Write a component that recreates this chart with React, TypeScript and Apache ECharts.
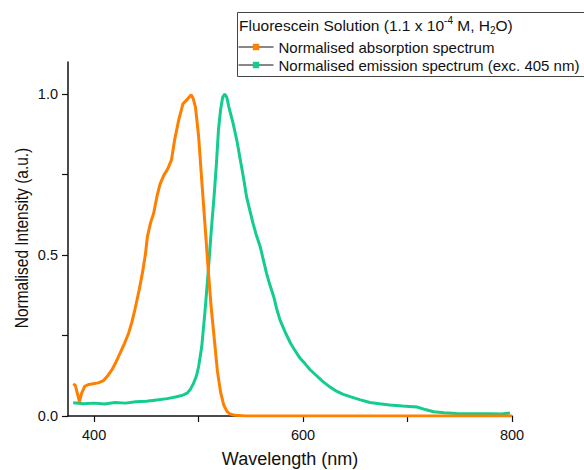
import React, { useEffect, useRef } from "react";
import * as echarts from "echarts";

const absorption: [number, number][] = [
  [380, 0.1], [382, 0.095], [384, 0.07], [386, 0.044], [388, 0.07], [391, 0.092], [395, 0.098],
  [399, 0.1], [404, 0.103], [409, 0.11], [413, 0.125], [417, 0.143], [421, 0.168], [425, 0.196],
  [429, 0.225], [433, 0.257], [436, 0.29], [439, 0.33], [443, 0.39], [446, 0.44], [449, 0.5],
  [451, 0.557], [454, 0.6], [457, 0.63], [460, 0.68], [463, 0.72], [467, 0.75], [470, 0.765],
  [474, 0.795], [477, 0.857], [481, 0.92], [485, 0.97], [488, 0.98], [490, 0.987], [493, 0.998],
  [495, 0.985], [497, 0.96], [500, 0.87], [503, 0.733], [506, 0.6], [509, 0.464], [512, 0.34],
  [515, 0.24], [518, 0.14], [521, 0.075], [524, 0.035], [527, 0.015], [530, 0.006], [535, 0.002],
  [545, 0], [600, 0], [700, 0], [800, 0],
];

const emission: [number, number][] = [
  [380, 0.041], [390, 0.038], [400, 0.04], [410, 0.037], [420, 0.042], [430, 0.04], [440, 0.044],
  [450, 0.046], [460, 0.05], [470, 0.054], [479, 0.06], [485, 0.065], [489, 0.071], [492, 0.082],
  [495, 0.1], [498, 0.125], [500, 0.153], [503, 0.215], [506, 0.32], [509, 0.44], [512, 0.57],
  [515, 0.69], [517, 0.78], [519, 0.888], [521, 0.95], [523, 0.99], [525, 1.0], [527, 0.99],
  [529, 0.96], [533, 0.91], [537, 0.85], [540, 0.795], [543, 0.74], [546, 0.68], [549, 0.64],
  [552, 0.6], [555, 0.565], [559, 0.526], [562, 0.485], [565, 0.444], [568, 0.41], [572, 0.37],
  [575, 0.33], [578, 0.298], [583, 0.26], [588, 0.226], [592, 0.205], [597, 0.18], [602, 0.162],
  [607, 0.143], [613, 0.125], [619, 0.107], [625, 0.092], [632, 0.077], [638, 0.068], [645, 0.06],
  [655, 0.05], [664, 0.042], [673, 0.038], [683, 0.034], [695, 0.031], [709, 0.028], [717, 0.02],
  [725, 0.013], [735, 0.01], [747, 0.008], [760, 0.007], [779, 0.007], [790, 0.006], [798, 0.009],
];

const seriesNames = ["Normalised absorption spectrum", "Normalised emission spectrum (exc. 405 nm)"];
const xLabelValues = [400, 600, 800];
const xTickValues = [400, 500, 600, 700, 800];
const yLabelValues = [0, 0.5, 1.0];
const yTickValues = [0, 0.25, 0.5, 0.75, 1.0];

const ORANGE = "#FF7F00";
const GREEN = "#14CC8C";
const TEXT = "#111";
const FONT = "'Liberation Sans', Arial, sans-serif";

export default function App() {
  const ref = useRef<HTMLDivElement>(null);
  useEffect(() => {
    if (!ref.current) return;
    const chart = echarts.init(ref.current, undefined, { renderer: "svg" });
    chart.setOption({
      animation: false,
      backgroundColor: "#fff",
      textStyle: { fontFamily: FONT },
      grid: { left: 68, right: 72, top: 62, bottom: 54, containLabel: false, outerBoundsMode: "none" },
      xAxis: {
        type: "value",
        min: 375,
        max: 800,
        name: "Wavelength (nm)",
        nameLocation: "middle",
        nameGap: 34,
        nameTextStyle: { fontSize: 18, color: TEXT, fontFamily: FONT },
        axisLine: { lineStyle: { color: TEXT, width: 1.5 } },
        axisTick: { customValues: xTickValues, length: 6, lineStyle: { color: TEXT, width: 1.2 } },
        axisLabel: { customValues: xLabelValues, fontSize: 14.5, color: TEXT, margin: 11, fontFamily: FONT },
        splitLine: { show: false },
      },
      yAxis: {
        type: "value",
        min: 0,
        max: 1.1,
        axisLine: { show: true, lineStyle: { color: TEXT, width: 1.5 } },
        axisTick: { show: true, customValues: yTickValues, length: 6, lineStyle: { color: TEXT, width: 1.2 } },
        axisLabel: {
          customValues: yLabelValues,
          fontSize: 14.5,
          color: TEXT,
          margin: 10,
          fontFamily: FONT,
          formatter: (v: number) => v.toFixed(1),
        },
        splitLine: { show: false },
      },
      legend: {
        orient: "vertical",
        left: 238,
        top: 38,
        padding: 0,
        itemWidth: 35,
        itemHeight: 8,
        itemGap: 0,
        textStyle: { fontSize: 15, lineHeight: 18, color: TEXT, fontFamily: FONT },
        data: [
          { name: seriesNames[0], lineStyle: { color: TEXT, width: 1 }, itemStyle: { color: ORANGE } },
          { name: seriesNames[1], lineStyle: { color: TEXT, width: 1 }, itemStyle: { color: GREEN } },
        ],
      },
      graphic: [
        {
          type: "rect",
          shape: { x: 237.5, y: 12.5, width: 360, height: 64 },
          style: { fill: "none", stroke: "#444", lineWidth: 1 },
          z: 10,
        },
        {
          type: "text",
          x: 239,
          y: 25,
          z: 11,
          style: {
            text: "{a|Fluorescein Solution (1.1 x 10}{sup|-4}{a| M, H}{sub|2}{a|O)}",
            verticalAlign: "middle",
            rich: {
              a: { fontSize: 15.5, fontFamily: FONT, fill: TEXT, lineHeight: 20, verticalAlign: "middle" },
              sup: { fontSize: 10, fontFamily: FONT, fill: TEXT, lineHeight: 20, verticalAlign: "top" },
              sub: { fontSize: 10, fontFamily: FONT, fill: TEXT, lineHeight: 20, verticalAlign: "bottom" },
            },
          },
        },
        {
          type: "text",
          x: 22,
          y: 238,
          rotation: Math.PI / 2,
          scaleX: 0.86,
          z: 11,
          style: {
            text: "Normalised Intensity (a.u.)",
            fontSize: 18,
            fontFamily: FONT,
            fill: TEXT,
            align: "center",
            verticalAlign: "middle",
          },
        },
      ],
      series: [
        {
          name: seriesNames[0],
          type: "line",
          data: absorption,
          symbol: "rect",
          symbolSize: 5,
          showSymbol: false,
          lineStyle: { color: ORANGE, width: 3 },
          itemStyle: { color: ORANGE },
          z: 3,
        },
        {
          name: seriesNames[1],
          type: "line",
          data: emission,
          symbol: "rect",
          symbolSize: 5,
          showSymbol: false,
          lineStyle: { color: GREEN, width: 3 },
          itemStyle: { color: GREEN },
          z: 2,
        },
      ],
    });
    return () => chart.dispose();
  }, []);
  return <div ref={ref} style={{ width: 584, height: 470, position: "absolute", left: 0, top: 0 }} />;
}
